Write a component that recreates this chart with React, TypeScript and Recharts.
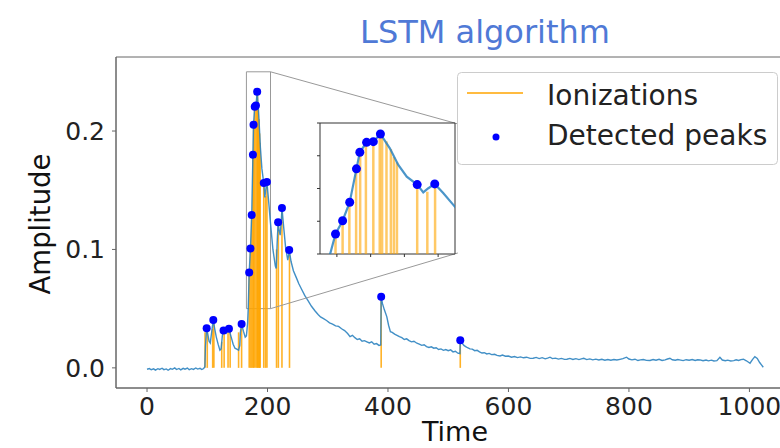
import React from 'react'
import {
  ComposedChart,
  Line,
  Scatter,
  XAxis,
  YAxis,
  ReferenceLine,
  ReferenceArea,
} from 'recharts'

// signal
const times = [
  0, 4, 7, 11, 14, 18, 21, 25, 28, 32, 35, 39, 42, 46, 49, 53, 56, 60, 63, 67, 70, 74, 77, 81, 84, 88, 91, 94,
  96, 97, 99, 101, 103, 105, 107, 110, 112, 115, 118, 121, 123, 125, 127, 129, 131, 134, 136, 138, 141, 143,
  146, 149, 152, 154, 155, 157, 160, 163, 165, 167, 168, 169.6, 171.7, 173.8, 175.8, 176.8, 178.8, 180.8,
  182.9, 185.7, 188.2, 190.7, 193.8, 195.6, 197, 199, 201.5, 205, 209, 213, 214.5, 216, 217.6, 219, 221, 223,
  224, 227, 230, 233.6, 235, 236, 239, 243, 248, 252, 257, 262, 267, 273, 279, 284, 288, 293, 298, 303, 308,
  313, 318, 323, 328, 333, 337, 341, 345, 349, 353, 357, 361, 365, 369, 373, 377, 381, 385, 388, 388.7, 391,
  394, 398, 401, 404, 407, 411, 415, 419, 423, 427, 431, 435, 439, 443, 448, 452, 456, 460, 464, 468, 472,
  476, 480, 484, 488, 492, 496, 500, 504, 508, 512, 516, 519.5, 520, 523, 526, 529, 532, 536, 540, 544, 548,
  552, 556, 560, 564, 568, 572, 577, 581, 586, 590, 595, 600, 605, 610, 615, 620, 625, 630, 636, 641, 646,
  651, 656, 661, 665, 669, 673, 678, 683, 688, 693, 697, 702, 707, 712, 717, 721, 725, 730, 735, 740, 745,
  750, 755, 760, 765, 770, 775, 780, 785, 790, 796, 800, 805, 810, 815, 819, 824, 829, 835, 840, 845, 850,
  855, 860, 864, 868, 872, 877, 881, 886, 890, 895, 900, 905, 910, 914, 918, 923, 928, 932, 937, 941, 946,
  951, 955, 960, 964, 969, 974, 978, 982, 986, 990, 995, 1001, 1005, 1009, 1013, 1017, 1020, 1023,
]
const amplitude = [
  -0.0012, -0.0006, -0.0016, -0.0008, -0.0019, -0.0007, -0.0013, -0.0003, -0.0015, -0.0009, -0.002, -0.0006,
  -0.0012, 0.0, -0.0014, -0.0005, -0.0017, -0.0004, -0.0011, -0.0002, -0.0016, -0.0007, -0.0013, -0.0001,
  -0.001, -0.0004, -0.0014, -0.0006,
  0.001, 0.018, 0.0335, 0.028, 0.0225, 0.021, 0.029, 0.0405, 0.034, 0.026, 0.02, 0.015, 0.016, 0.027, 0.0315,
  0.03, 0.029, 0.031, 0.033, 0.029, 0.0236, 0.02, 0.0166, 0.0158, 0.015, 0.019, 0.03, 0.037, 0.031, 0.026,
  0.027, 0.038, 0.05, 0.0805, 0.1008, 0.129, 0.18, 0.2053, 0.2205, 0.2215, 0.2332, 0.2114, 0.186, 0.168, 0.156,
  0.144, 0.15, 0.157, 0.143, 0.122, 0.1, 0.086, 0.084, 0.105, 0.123, 0.117, 0.112, 0.125, 0.135, 0.118, 0.102,
  0.091, 0.095, 0.0996, 0.09, 0.082, 0.076, 0.071, 0.066, 0.061, 0.057, 0.052, 0.048, 0.045, 0.043, 0.0415,
  0.04, 0.038, 0.037, 0.0355, 0.035, 0.033, 0.0315, 0.029, 0.0264, 0.0275, 0.0255, 0.024, 0.0245, 0.0225,
  0.023, 0.022, 0.021, 0.022, 0.02, 0.0205, 0.019, 0.0194, 0.06, 0.054, 0.049, 0.0433, 0.036, 0.0306, 0.03,
  0.0285, 0.0275, 0.0264, 0.0255, 0.024, 0.0245, 0.023, 0.022, 0.0225, 0.0208, 0.02, 0.019, 0.0195, 0.018,
  0.0172, 0.0178, 0.0166, 0.017, 0.0155, 0.016, 0.0148, 0.0155, 0.0145, 0.0152, 0.0135, 0.014, 0.0124, 0.012,
  0.0234, 0.021, 0.019, 0.018, 0.017, 0.016, 0.0158, 0.0145, 0.0148, 0.0135, 0.0125, 0.0128, 0.0118, 0.0122,
  0.0112, 0.0115, 0.0105, 0.0101, 0.0108, 0.0098, 0.01, 0.009, 0.0096, 0.0087, 0.0093, 0.0085, 0.009, 0.008,
  0.0081, 0.0088, 0.0078, 0.0086, 0.0076, 0.0082, 0.009, 0.0078, 0.0082, 0.0074, 0.008, 0.0072, 0.0073, 0.008,
  0.0071, 0.0078, 0.007, 0.0076, 0.0081, 0.007, 0.0076, 0.0068, 0.0074, 0.0067, 0.0072, 0.0065, 0.0071,
  0.0064, 0.007, 0.0066, 0.0072, 0.0078, 0.009, 0.0075, 0.0068, 0.0073, 0.0062, 0.0067, 0.0071, 0.0063, 0.0062,
  0.007, 0.0064, 0.0072, 0.0063, 0.0068, 0.0075, 0.0081, 0.0068, 0.0064, 0.007, 0.0065, 0.0061, 0.0069, 0.0064,
  0.007, 0.0062, 0.0068, 0.0067, 0.006, 0.0066, 0.0059, 0.0065, 0.0058, 0.0061, 0.009, 0.0066, 0.006, 0.0065,
  0.0058, 0.0061, 0.0068, 0.0062, 0.007, 0.0073, 0.006, 0.0039, 0.007, 0.0095, 0.008, 0.0045, 0.0025, 0.0005,
]

const ionTimes = [
  96.3, 100, 109, 111, 124, 128, 134.5, 138, 152, 157, 169.6, 171.7, 173.7, 175.7, 176.9, 178.6, 180.8, 182.7,
  183.4, 184.7, 186.0, 186.9, 187.8, 193.8, 196.8, 199.1, 215, 218, 224, 236.5, 388.7, 520,
]
const ionHeights = [
  0.03, 0.0335, 0.033, 0.0405, 0.022, 0.0315, 0.03, 0.032, 0.03, 0.037, 0.0805, 0.1008, 0.129, 0.178, 0.205,
  0.22, 0.2215, 0.233, 0.232, 0.222, 0.21, 0.198, 0.19, 0.156, 0.145, 0.157, 0.1, 0.123, 0.135, 0.0996, 0.06,
  0.0234,
]

const peakTimes = [
  99, 110, 127, 136, 157, 169.6, 171.7, 173.8, 175.8, 176.8, 178.8, 180.8, 182.9, 193.8, 199, 217.6, 224, 236,
  388.7, 520,
]
const peakAmps = [
  0.0335, 0.0405, 0.0315, 0.033, 0.037, 0.0805, 0.1008, 0.129, 0.18, 0.2053, 0.2205, 0.2215, 0.2332, 0.156,
  0.157, 0.123, 0.135, 0.0996, 0.06, 0.0234,
]

const xTicks = [0, 200, 400, 600, 800, 1000]
const yTicks = [0, 0.1, 0.2]
const insetXTicks = [170, 180, 190, 200]
const insetYTicks = [0.05, 0.1, 0.15, 0.2, 0.25]

const X_DOMAIN = [-51.5, 1074]
const Y_DOMAIN = [-0.017, 0.2625]
const ZOOM_X = [165, 205]
const ZOOM_Y = [0.05, 0.25]

const FONT = 'DejaVu Sans, Verdana, sans-serif'
const ORANGE = '#ffa500'
const LINE_BLUE = '#2c83c0'

const signal = times.map((t, i) => ({ t, a: amplitude[i] }))
const ions = ionTimes.map((t, i) => ({ t, h: ionHeights[i] }))
const peaks = peakTimes.map((t, i) => ({ t, a: peakAmps[i] }))

const insetIons = ions.filter((d) => d.t >= ZOOM_X[0] && d.t <= ZOOM_X[1])
const insetPeaks = peaks.filter((d) => d.t >= ZOOM_X[0] && d.t <= ZOOM_X[1])

const Dot = (r: number) => (props: any) =>
  <circle cx={props.cx} cy={props.cy} r={r} fill="#0000ff" />

// tick marks only, no labels
const NoLabel = () => <g />

function Inset() {
  return (
    <div style={{ position: 'absolute', left: 310, top: 118, width: 155, height: 146 }}>
      <div style={{ position: 'absolute', left: 10, top: 5, width: 135, height: 131, background: '#fff' }} />
      <div style={{ position: 'absolute', left: 0, top: 0 }}>
        <ComposedChart width={155} height={146} margin={{ top: 5, right: 10, bottom: 5, left: 0 }}>
          <XAxis
            dataKey="t"
            type="number"
            domain={ZOOM_X}
            ticks={insetXTicks}
            interval={0}
            allowDataOverflow
            height={5}
            tick={NoLabel}
            tickSize={3}
            axisLine={false}
            tickLine={{ stroke: '#333' }}
          />
          <YAxis
            type="number"
            domain={ZOOM_Y}
            ticks={insetYTicks}
            interval={0}
            allowDataOverflow
            width={10}
            tick={NoLabel}
            tickSize={3}
            axisLine={false}
            tickLine={{ stroke: '#333' }}
          />
          {insetIons.map((d) => (
            <ReferenceLine
              key={d.t}
              segment={[{ x: d.t, y: ZOOM_Y[0] }, { x: d.t, y: d.h }]}
              stroke={ORANGE}
              strokeOpacity={0.6}
              strokeWidth={2.5}
            />
          ))}
          <Line
            data={signal}
            dataKey="a"
            type="linear"
            stroke={LINE_BLUE}
            strokeWidth={2.2}
            strokeOpacity={0.85}
            dot={false}
            activeDot={false}
            isAnimationActive={false}
          />
          <Scatter data={insetPeaks} dataKey="a" shape={Dot(4.5)} isAnimationActive={false} />
          <ReferenceArea
            x1={ZOOM_X[0]}
            x2={ZOOM_X[1]}
            y1={ZOOM_Y[0]}
            y2={ZOOM_Y[1]}
            fill="none"
            stroke="#333"
            strokeWidth={1}
            ifOverflow="visible"
          />
        </ComposedChart>
      </div>
    </div>
  )
}

export default function App() {
  return (
    <div style={{ position: 'absolute', left: 0, top: 0, width: 780, height: 448, overflow: 'hidden', background: '#fff' }}>
      <div style={{ position: 'absolute', left: 0, top: 0 }}>
        <ComposedChart width={820} height={448} margin={{ top: 57, right: 26, bottom: 0, left: 0 }}>
          <XAxis
            dataKey="t"
            type="number"
            domain={X_DOMAIN}
            ticks={xTicks}
            interval={0}
            allowDataOverflow
            height={60}
            tickSize={4}
            tickMargin={5}
            tick={{ fontSize: 25, fill: '#222', fontFamily: FONT }}
            axisLine={{ stroke: '#666' }}
            tickLine={{ stroke: '#666' }}
          />
          <YAxis
            type="number"
            domain={Y_DOMAIN}
            ticks={yTicks}
            interval={0}
            allowDataOverflow
            width={116}
            tickSize={4}
            tickMargin={7}
            tickFormatter={(v: number) => v.toFixed(1)}
            tick={{ fontSize: 25, fill: '#222', fontFamily: FONT }}
            axisLine={{ stroke: '#666' }}
            tickLine={{ stroke: '#666' }}
          />
          <ReferenceArea
            x1={X_DOMAIN[0]}
            x2={X_DOMAIN[1]}
            y1={Y_DOMAIN[0]}
            y2={Y_DOMAIN[1]}
            fill="none"
            stroke="#666"
            ifOverflow="visible"
          />
          {ions.map((d) => (
            <ReferenceLine
              key={d.t}
              segment={[{ x: d.t, y: 0 }, { x: d.t, y: d.h }]}
              stroke={ORANGE}
              strokeOpacity={0.85}
              strokeWidth={1.6}
            />
          ))}
          <Line
            data={signal}
            dataKey="a"
            type="linear"
            stroke={LINE_BLUE}
            strokeWidth={1.4}
            strokeOpacity={0.9}
            dot={false}
            activeDot={false}
            isAnimationActive={false}
          />
          <Scatter data={peaks} dataKey="a" shape={Dot(4)} isAnimationActive={false} />
          <ReferenceArea
            x1={ZOOM_X[0]}
            x2={ZOOM_X[1]}
            y1={ZOOM_Y[0]}
            y2={ZOOM_Y[1]}
            fill="none"
            stroke="#999"
            ifOverflow="visible"
          />
          <ReferenceLine segment={[{ x: ZOOM_X[1], y: ZOOM_Y[1] }, { x: 516, y: 0.206 }]} stroke="#999" />
          <ReferenceLine segment={[{ x: ZOOM_X[1], y: ZOOM_Y[0] }, { x: 516, y: 0.097 }]} stroke="#999" />
        </ComposedChart>
      </div>

      <Inset />

      <svg width={780} height={448} style={{ position: 'absolute', left: 0, top: 0, pointerEvents: 'none' }}>
        <text x={485} y={43} textAnchor="middle" fontSize={32} fill="#4f79d6" fontFamily={FONT}>
          LSTM algorithm
        </text>
        <text x={455} y={441} textAnchor="middle" fontSize={27} fill="#111" fontFamily={FONT}>
          Time
        </text>
        <text
          x={50}
          y={224}
          transform="rotate(-90 50 224)"
          textAnchor="middle"
          fontSize={27.5}
          fill="#111"
          fontFamily={FONT}
        >
          Amplitude
        </text>

        <rect x={457.5} y={72.5} width={320} height={92} rx={4} fill="#fff" fillOpacity={0.9} stroke="#ccc" />
        <line x1={467} y1={93} x2={523} y2={93} stroke={ORANGE} strokeWidth={1.6} />
        <text x={547} y={105} fontSize={28} fill="#222" fontFamily={FONT}>
          Ionizations
        </text>
        <circle cx={496} cy={137} r={3.5} fill="#0000ff" />
        <text x={547} y={145} fontSize={28} fill="#222" fontFamily={FONT}>
          Detected peaks
        </text>
      </svg>
    </div>
  )
}
